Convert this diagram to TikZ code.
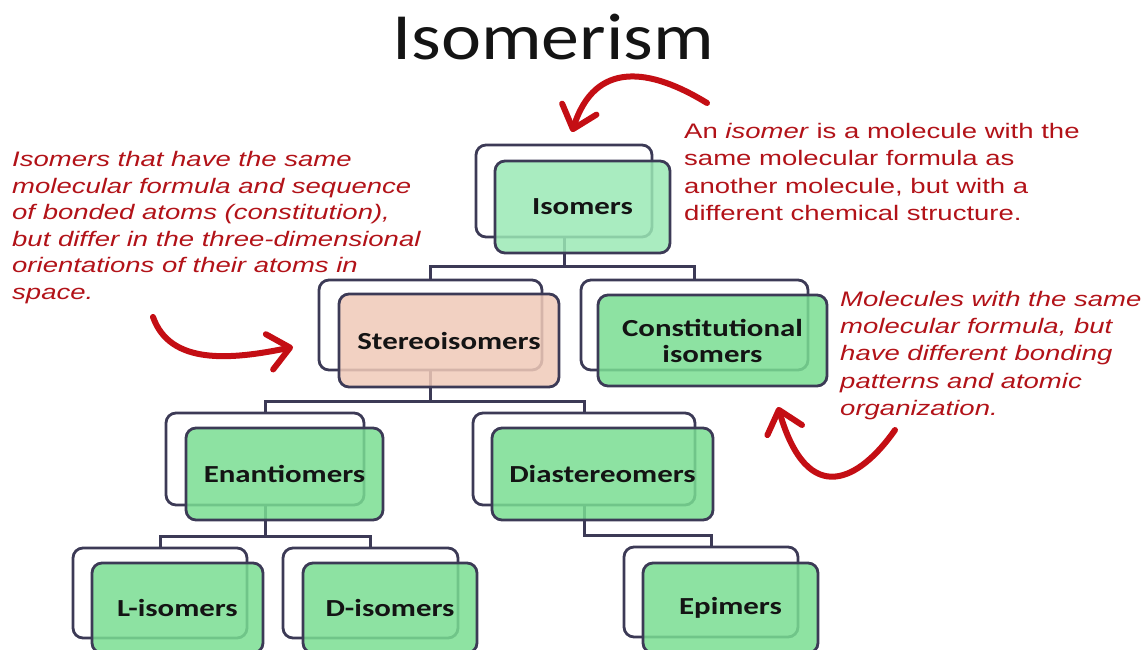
\documentclass[tikz,border=0pt]{standalone}
\usepackage{fontspec}
\usetikzlibrary{arrows.meta}
\newfontfamily\titlefont[FakeStretch=1.15]{Carlito}
\newfontfamily\boxfont[FakeStretch=1.26]{Carlito}
\newfontfamily\notefont[FakeStretch=1.31]{Liberation Sans}
\definecolor{edge}{RGB}{60,58,86}
\definecolor{boxgreen}{RGB}{122,222,146}
\definecolor{isogreen}{RGB}{155,233,181}
\definecolor{boxpink}{RGB}{240,202,184}
\definecolor{notered}{RGB}{178,18,24}
\definecolor{arrowred}{RGB}{196,14,20}
\definecolor{ink}{RGB}{20,20,20}
\tikzset{
  backbox/.style={draw=edge, line width=2.8pt, rounded corners=10pt, fill=white, inner sep=0pt},
  frontbox/.style={draw=edge, line width=2.8pt, rounded corners=10pt, fill opacity=0.85, draw opacity=1, text opacity=1,
    inner sep=0pt, align=center, text=ink, font=\boxfont\bfseries\fontsize{24.5}{28}\selectfont},
  conn/.style={draw=edge, line width=3pt},
  note/.style={inner sep=0pt, align=left, text=notered, anchor=north west},
  bigarrow/.style={draw=arrowred, line width=6pt, line cap=round,
    -{Straight Barb[length=21pt,width=36pt,round]}}
}
\begin{document}
\begin{tikzpicture}[x=1pt,y=-1pt]
\useasboundingbox (0,0) rectangle (1144,650);

% title
\node[font=\titlefont\fontsize{66}{70}\selectfont, text=ink, anchor=base, inner sep=0pt] (title) at (553,60) {Isomerism};

% back boxes
\node[backbox, minimum width=176pt, minimum height=92pt] (isoB) at (564,191) {};
\node[backbox, minimum width=223pt, minimum height=90pt] (stB) at (430.5,325) {};
\node[backbox, minimum width=227pt, minimum height=90pt] (coB) at (694.5,325) {};
\node[backbox, minimum width=198pt, minimum height=92pt] (enB) at (265,459) {};
\node[backbox, minimum width=222pt, minimum height=92pt] (diB) at (584,459) {};
\node[backbox, minimum width=174pt, minimum height=90pt] (lB) at (160,593) {};
\node[backbox, minimum width=175pt, minimum height=90pt] (dB) at (370.5,593) {};
\node[backbox, minimum width=174pt, minimum height=90pt] (epB) at (711,592) {};

% connectors
\draw[conn] (isoB.south) -- ++(0,28) -| (stB.north);
\draw[conn] (isoB.south) -- ++(0,28) -| (coB.north);
\draw[conn] (stB.south) -- ++(0,30) -| (enB.north);
\draw[conn] (stB.south) -- ++(0,30) -| (diB.north);
\draw[conn] (enB.south) -- ++(0,30) -| (lB.north);
\draw[conn] (enB.south) -- ++(0,30) -| (dB.north);
\draw[conn] (diB.south) -- ++(0,29) -| (epB.north);

% front boxes
\node[frontbox, fill=isogreen, minimum width=175pt, minimum height=92pt] (iso) at (582.5,207) {Isomers};
\node[frontbox, fill=boxpink, minimum width=220pt, minimum height=93pt] (st) at (449,340.5) {Stereoisomers};
\node[frontbox, fill=boxgreen, minimum width=229pt, minimum height=91pt] (co) at (712.5,340.5) {Constitutional\\[-2pt]isomers};
\node[frontbox, fill=boxgreen, minimum width=197pt, minimum height=92pt] (en) at (284.5,474) {Enantiomers};
\node[frontbox, fill=boxgreen, minimum width=221pt, minimum height=92pt] (di) at (602.5,474) {Diastereomers};
\node[frontbox, fill=boxgreen, minimum width=171pt, minimum height=90pt] (li) at (177.5,608) {L-isomers};
\node[frontbox, fill=boxgreen, minimum width=174pt, minimum height=90pt] (di2) at (390,608) {D-isomers};
\node[frontbox, fill=boxgreen, minimum width=175pt, minimum height=90pt] (ep) at (730.5,608) {Epimers};

% notes
\node[note, font=\notefont\itshape\fontsize{21}{26.6}\selectfont] (noteL) at (12,151)
 {Isomers that have the same\\molecular formula and sequence\\of bonded atoms (constitution),\\but differ in the three-dimensional\\orientations of their atoms in\\space.};
\node[note, font=\notefont\fontsize{21}{27.3}\selectfont] (noteT) at (684,123)
 {An \textit{isomer} is a molecule with the\\same molecular formula as\\another molecule, but with a\\different chemical structure.};
\node[note, font=\notefont\itshape\fontsize{21}{27.2}\selectfont] (noteR) at (840,291)
 {Molecules with the same\\molecular formula, but\\have different bonding\\patterns and atomic\\organization.};

% arrows
\coordinate (a1s) at (707,103);
\coordinate (a1e) at (572,132);
\coordinate (a2s) at (153,317);
\coordinate (a2e) at (293,347);
\coordinate (a3s) at (895,430);
\coordinate (a3e) at (778,407);
\draw[bigarrow] (a1s) .. controls (650,68) and (595,60) .. (a1e);
\draw[bigarrow] (a2s) .. controls (170,365) and (230,360) .. (a2e);
\draw[bigarrow] (a3s) .. controls (860,480) and (808,510) .. (a3e);
\end{tikzpicture}
\end{document}
